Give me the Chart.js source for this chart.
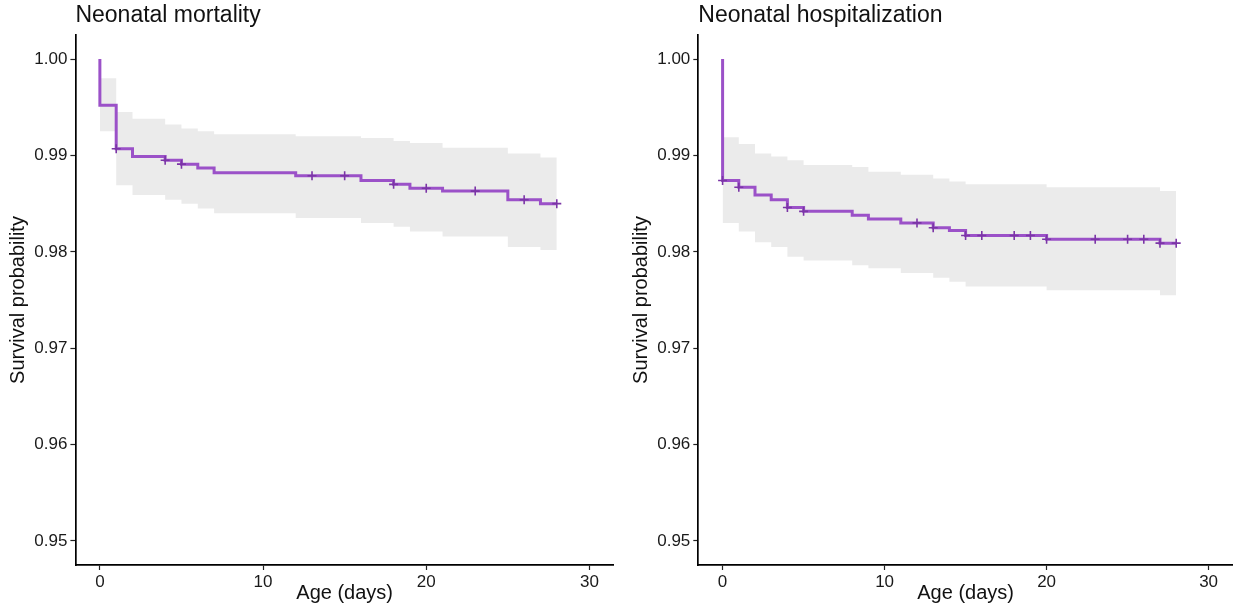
<!DOCTYPE html>
<html>
<head>
<meta charset="utf-8">
<script src="https://cdn.jsdelivr.net/npm/chart.js@4.4.1/dist/chart.umd.min.js"></script>
<style>
  html, body { margin: 0; padding: 0; background: #fff; overflow: hidden; }
  #wrap { position: relative; width: 1239px; height: 614px; }
  canvas { position: absolute; top: 0; }
  #mort { left: 0; }
  #hosp { left: 620px; }
</style>
</head>
<body>
<div id="wrap">
  <canvas id="mort" width="620" height="614"></canvas>
  <canvas id="hosp" width="619" height="614"></canvas>
</div>
<script>
const xTicks = [0, 10, 20, 30];
const yTicks = [0.95, 0.96, 0.97, 0.98, 0.99, 1.00];

// Neonatal mortality: step times, estimate and 95% band (value holds until next time)
const mortTime   = [0, 1, 2, 4, 5, 6, 7, 12, 16, 18, 19, 21, 25, 27, 28];
const mortSurv   = [0.9952, 0.9907, 0.9899, 0.9895, 0.9891, 0.9887, 0.9882, 0.9879, 0.9874, 0.9870, 0.9866, 0.9863, 0.9854, 0.9850, 0.9850];
const mortUpper  = [0.9980, 0.9945, 0.9938, 0.9932, 0.9928, 0.9925, 0.9922, 0.9920, 0.9918, 0.9915, 0.9913, 0.9908, 0.9902, 0.9898, 0.9898];
const mortLower  = [0.9925, 0.9869, 0.9859, 0.9854, 0.9850, 0.9845, 0.9840, 0.9835, 0.9830, 0.9826, 0.9821, 0.9816, 0.9805, 0.9802, 0.9802];
const mortCensor = [1, 4, 5, 13, 15, 18, 20, 23, 26, 28];

// Neonatal hospitalization
const hospTime   = [0, 1, 2, 3, 4, 5, 8, 9, 11, 13, 14, 15, 20, 27, 28];
const hospSurv   = [0.9874, 0.9867, 0.9859, 0.9854, 0.9846, 0.9842, 0.9838, 0.9834, 0.9830, 0.9825, 0.9822, 0.9817, 0.9813, 0.9809, 0.9809];
const hospUpper  = [0.9919, 0.9912, 0.9902, 0.9899, 0.9895, 0.9890, 0.9888, 0.9883, 0.9880, 0.9876, 0.9873, 0.9870, 0.9867, 0.9863, 0.9863];
const hospLower  = [0.9830, 0.9821, 0.9810, 0.9805, 0.9795, 0.9791, 0.9786, 0.9783, 0.9778, 0.9773, 0.9769, 0.9764, 0.9760, 0.9755, 0.9755];
const hospCensor = [0, 1, 4, 5, 12, 13, 15, 16, 18, 19, 20, 23, 25, 26, 27, 28];

const FONT = '"Liberation Sans", Arial, Helvetica, sans-serif';
const LINE = '#9b51c8';
const MARK = '#7b35a6';
const BAND = '#ebebeb';

const titlePlugin = {
    id: 'panelTitle',
    afterDraw(chart, args, opts) {
        const { ctx, chartArea } = chart;
        ctx.save();
        ctx.font = '23px ' + FONT;
        ctx.fillStyle = '#111';
        ctx.textBaseline = 'alphabetic';
        ctx.fillText(opts.text, chartArea.left, 22);
        ctx.restore();
    }
};

function survAt(time, surv, t) {
    let v = 1;
    time.forEach((tt, i) => { if (tt <= t) v = surv[i]; });
    return v;
}

function makeChart(id, title, time, surv, upper, lower, censor, yWidth, padRight, yTitlePad) {
    const pts = vals => time.map((t, i) => ({ x: t, y: vals[i] }));
    const ctx = document.getElementById(id).getContext('2d');
    new Chart(ctx, {
        type: 'line',
        data: {
            datasets: [
                { data: pts(lower), borderWidth: 0, pointRadius: 0, stepped: true, fill: false, order: 3 },
                { data: pts(upper), borderWidth: 0, pointRadius: 0, stepped: true, fill: '-1', backgroundColor: BAND, order: 2 },
                { data: [{ x: 0, y: 1 }].concat(pts(surv)), borderColor: LINE, borderWidth: 3, pointRadius: 0, stepped: true, fill: false, order: 1 },
                {
                    type: 'scatter',
                    data: censor.map(t => ({ x: t, y: survAt(time, surv, t) })),
                    pointStyle: 'cross', pointRadius: 4.5, pointBorderWidth: 1.6,
                    borderColor: MARK, showLine: false, order: 0
                }
            ]
        },
        options: {
            responsive: false,
            animation: false,
            layout: { padding: { left: 0, right: padRight, top: 35, bottom: 0 } },
            plugins: {
                legend: { display: false },
                tooltip: { enabled: false },
                panelTitle: { text: title }
            },
            scales: {
                x: {
                    type: 'linear', min: -1.5, max: 31.5,
                    afterBuildTicks: s => { s.ticks = xTicks.map(v => ({ value: v })); },
                    afterFit: s => { s.height = 49; },
                    grid: { drawOnChartArea: false, drawTicks: true, tickLength: 5, tickColor: '#222', tickWidth: 1.2 },
                    border: { display: true, color: '#000', width: 1.7 },
                    ticks: { font: { family: FONT, size: 17 }, color: '#1a1a1a', padding: 2, maxRotation: 0 },
                    title: { display: true, text: 'Age (days)', font: { family: FONT, size: 20 }, color: '#111', padding: { top: 0, bottom: 9 } }
                },
                y: {
                    type: 'linear', min: 0.9475, max: 1.0025,
                    afterBuildTicks: s => { s.ticks = yTicks.map(v => ({ value: v })); },
                    afterFit: s => { s.width = yWidth; },
                    grid: { drawOnChartArea: false, drawTicks: true, tickLength: 5, tickColor: '#222', tickWidth: 1.2 },
                    border: { display: true, color: '#000', width: 1.7 },
                    ticks: { font: { family: FONT, size: 17 }, color: '#1a1a1a', padding: 3, callback: v => v.toFixed(2) },
                    title: { display: true, text: 'Survival probability', font: { family: FONT, size: 20 }, color: '#111', padding: { top: yTitlePad, bottom: 0 } }
                }
            }
        },
        plugins: [titlePlugin]
    });
}

makeChart('mort', 'Neonatal mortality', mortTime, mortSurv, mortUpper, mortLower, mortCensor, 75.4, 3, 6);
makeChart('hosp', 'Neonatal hospitalization', hospTime, hospSurv, hospUpper, hospLower, hospCensor, 78.3, 0, 9);
</script>
</body>
</html>
